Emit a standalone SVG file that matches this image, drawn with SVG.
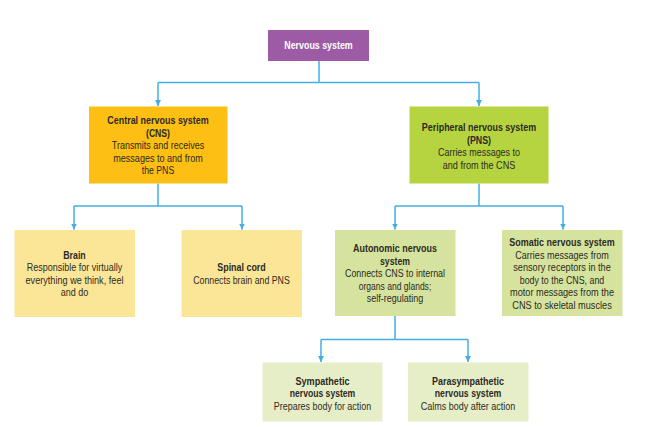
<svg xmlns="http://www.w3.org/2000/svg" width="646" height="427" viewBox="0 0 646 427">
<style>
.t{font-family:"Liberation Sans",Arial,sans-serif;font-size:10.8px;fill:#2e2a24;text-anchor:middle}
.b{font-weight:bold}
.w{fill:#ffffff}
.c{fill:none;stroke:#45aee3;stroke-width:1.5}
</style>
<defs>
<marker id="ah" viewBox="0 0 6 6" refX="6" refY="3" markerWidth="6" markerHeight="6" markerUnits="userSpaceOnUse" orient="auto">
<path d="M0,0 L6,3 L0,6 Z" fill="#45aee3"/>
</marker>
</defs>
<rect width="646" height="427" fill="#ffffff"/>
<g id="connectors">
<path class="c" d="M319,61 V82.5 M158,82.5 H479"/>
<path class="c" d="M158,82.5 V106" marker-end="url(#ah)"/>
<path class="c" d="M479,82.5 V106" marker-end="url(#ah)"/>
<path class="c" d="M158,183.5 V206 M74,206 H242"/>
<path class="c" d="M74,206 V229.5" marker-end="url(#ah)"/>
<path class="c" d="M242,206 V229.5" marker-end="url(#ah)"/>
<path class="c" d="M479,183.5 V206 M395,206 H563"/>
<path class="c" d="M395,206 V229.5" marker-end="url(#ah)"/>
<path class="c" d="M563,206 V229.5" marker-end="url(#ah)"/>
<path class="c" d="M395,316 V339.5 M321,339.5 H468"/>
<path class="c" d="M321,339.5 V362" marker-end="url(#ah)"/>
<path class="c" d="M468,339.5 V362" marker-end="url(#ah)"/>
</g>
<g id="nervous-system">
<rect x="268" y="30" width="101" height="31" fill="#9d5aa5"/>
<text class="t b w" x="318.5" y="49" textLength="68.5" lengthAdjust="spacingAndGlyphs">Nervous system</text>
</g>
<g id="cns">
<rect x="89" y="106.5" width="138.5" height="77" fill="#fdbf14"/>
<text class="t b" x="158" y="124" textLength="101.5" lengthAdjust="spacingAndGlyphs">Central nervous system</text>
<text class="t b" x="158" y="136.5" textLength="24" lengthAdjust="spacingAndGlyphs">(CNS)</text>
<text class="t" x="158" y="149" textLength="92.5" lengthAdjust="spacingAndGlyphs">Transmits and receives</text>
<text class="t" x="158" y="161.5" textLength="89.5" lengthAdjust="spacingAndGlyphs">messages to and from</text>
<text class="t" x="158" y="174" textLength="32.5" lengthAdjust="spacingAndGlyphs">the PNS</text>
</g>
<g id="pns">
<rect x="409.5" y="106.5" width="139" height="77" fill="#b6d43f"/>
<text class="t b" x="479" y="131" textLength="114.5" lengthAdjust="spacingAndGlyphs">Peripheral nervous system</text>
<text class="t b" x="479" y="143.5" textLength="24" lengthAdjust="spacingAndGlyphs">(PNS)</text>
<text class="t" x="479" y="156" textLength="82" lengthAdjust="spacingAndGlyphs">Carries messages to</text>
<text class="t" x="479" y="168.5" textLength="72.5" lengthAdjust="spacingAndGlyphs">and from the CNS</text>
</g>
<g id="brain">
<rect x="14.5" y="230" width="120.5" height="87" fill="#fbe698"/>
<text class="t b" x="74.5" y="258.5" textLength="22.5" lengthAdjust="spacingAndGlyphs">Brain</text>
<text class="t" x="74.5" y="271" textLength="95.5" lengthAdjust="spacingAndGlyphs">Responsible for virtually</text>
<text class="t" x="74.5" y="283.5" textLength="98" lengthAdjust="spacingAndGlyphs">everything we think, feel</text>
<text class="t" x="74.5" y="296" textLength="27.5" lengthAdjust="spacingAndGlyphs">and do</text>
</g>
<g id="spinal-cord">
<rect x="181.5" y="230" width="120.5" height="87" fill="#fbe698"/>
<text class="t b" x="241.5" y="271" textLength="48.5" lengthAdjust="spacingAndGlyphs">Spinal cord</text>
<text class="t" x="241.5" y="283.5" textLength="96.5" lengthAdjust="spacingAndGlyphs">Connects brain and PNS</text>
</g>
<g id="autonomic">
<rect x="335" y="230" width="120.5" height="86" fill="#d5e39e"/>
<text class="t b" x="395" y="252" textLength="84" lengthAdjust="spacingAndGlyphs">Autonomic nervous</text>
<text class="t b" x="395" y="264.5" textLength="30" lengthAdjust="spacingAndGlyphs">system</text>
<text class="t" x="395" y="277" textLength="100" lengthAdjust="spacingAndGlyphs">Connects CNS to internal</text>
<text class="t" x="395" y="289.5" textLength="72.5" lengthAdjust="spacingAndGlyphs">organs and glands;</text>
<text class="t" x="395" y="302" textLength="56.5" lengthAdjust="spacingAndGlyphs">self-regulating</text>
</g>
<g id="somatic">
<rect x="502" y="230" width="120.5" height="86" fill="#d5e39e"/>
<text class="t b" x="562" y="246" textLength="105.5" lengthAdjust="spacingAndGlyphs">Somatic nervous system</text>
<text class="t" x="562" y="258.5" textLength="93.5" lengthAdjust="spacingAndGlyphs">Carries messages from</text>
<text class="t" x="562" y="271" textLength="97.5" lengthAdjust="spacingAndGlyphs">sensory receptors in the</text>
<text class="t" x="562" y="283.5" textLength="84.5" lengthAdjust="spacingAndGlyphs">body to the CNS, and</text>
<text class="t" x="562" y="296" textLength="104" lengthAdjust="spacingAndGlyphs">motor messages from the</text>
<text class="t" x="562" y="308.5" textLength="99.5" lengthAdjust="spacingAndGlyphs">CNS to skeletal muscles</text>
</g>
<g id="sympathetic">
<rect x="262.5" y="362.5" width="120" height="59" fill="#e6eec8"/>
<text class="t b" x="322.5" y="384.5" textLength="54" lengthAdjust="spacingAndGlyphs">Sympathetic</text>
<text class="t b" x="322.5" y="397" textLength="65.5" lengthAdjust="spacingAndGlyphs">nervous system</text>
<text class="t" x="322.5" y="409.5" textLength="97.5" lengthAdjust="spacingAndGlyphs">Prepares body for action</text>
</g>
<g id="parasympathetic">
<rect x="408" y="362.5" width="120.5" height="59" fill="#e6eec8"/>
<text class="t b" x="468" y="384.5" textLength="72" lengthAdjust="spacingAndGlyphs">Parasympathetic</text>
<text class="t b" x="468" y="397" textLength="66.5" lengthAdjust="spacingAndGlyphs">nervous system</text>
<text class="t" x="468" y="409.5" textLength="94.5" lengthAdjust="spacingAndGlyphs">Calms body after action</text>
</g>
</svg>
